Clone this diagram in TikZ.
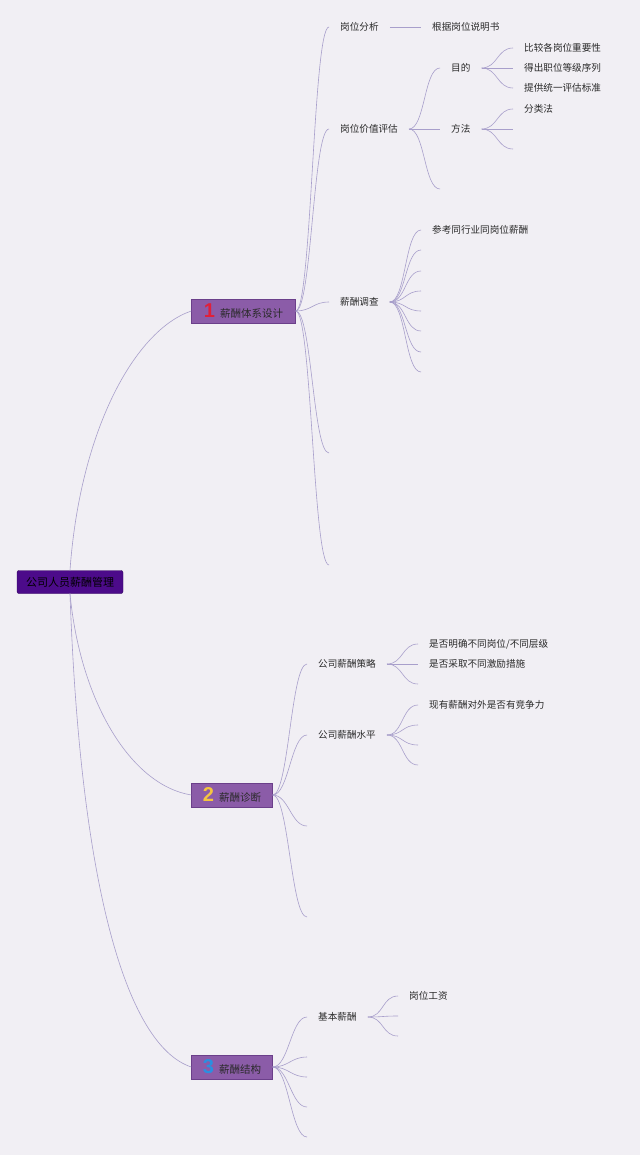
\documentclass[tikz,border=0pt]{standalone}
\usepackage{fontspec}
\setmainfont{Noto Sans CJK SC}
\newfontfamily\numfont{Liberation Sans}
\usepackage{xcolor}
\usepackage{tikz}
\definecolor{MapBack}{HTML}{F1EFF4}
\definecolor{MapRoot}{HTML}{4C0B8A}
\definecolor{MapRootLine}{HTML}{33065E}
\definecolor{MapBranch}{HTML}{8B5CA8}
\definecolor{MapBranchLine}{HTML}{6B3F8A}
\definecolor{MapLink}{HTML}{A89FCB}
\definecolor{MapText}{HTML}{2A2A2A}
\definecolor{NumRed}{HTML}{E0203A}
\definecolor{NumYellow}{HTML}{F5C540}
\definecolor{NumBlue}{HTML}{2B8FE0}

\begin{document}
\begin{tikzpicture}[
    x=1pt, y=-1pt,
    root/.style={draw=MapRootLine, fill=MapRoot, rounded corners=2pt, minimum width=106pt, minimum height=23pt, inner sep=0pt, font=\fontsize{11}{13}\selectfont, text=black},
    branch/.style={draw=MapBranchLine, fill=MapBranch, minimum height=24pt, inner sep=0pt, font=\fontsize{10.5}{12}\selectfont, text=MapText},
    leaf/.style={anchor=west, inner xsep=11pt, inner ysep=2pt, font=\fontsize{9.6}{11}\selectfont, text=MapText},
    link/.style={draw=MapLink, line width=0.6pt},
    fan/.style={link, to path={.. controls +(16,0) and +(-16,0) .. (\tikztotarget)}}
]
    \path[fill=MapBack, use as bounding box] (0,0) rectangle (640,1155);

    \node[root] (root) at (70,582) {公司人员薪酬管理};
    \node[branch, minimum width=104pt] (design) at (243.5,311) {{\numfont\bfseries\fontsize{20}{20}\selectfont\color{NumRed}1}\hspace{5pt}薪酬体系设计};
    \node[branch, minimum width=81pt] (diagnose) at (232,795) {{\numfont\bfseries\fontsize{20}{20}\selectfont\color{NumYellow}2}\hspace{5pt}薪酬诊断};
    \node[branch, minimum width=81pt] (structure) at (232,1067) {{\numfont\bfseries\fontsize{20}{20}\selectfont\color{NumBlue}3}\hspace{5pt}薪酬结构};

    \node[leaf] (analysis) at (329,27) {岗位分析};
    \node[leaf] (evaluate) at (329,129) {岗位价值评估};
    \node[leaf] (survey) at (329,302) {薪酬调查};
    \coordinate (design4) at (329,453);
    \coordinate (design5) at (329,565);

    \node[leaf] (manual) at (421,27) {根据岗位说明书};
    \node[leaf] (purpose) at (440,68) {目的};
    \node[leaf] (method) at (440,129) {方法};
    \coordinate (evaluate3) at (440,189);
    \node[leaf] (compare) at (513,48) {比较各岗位重要性};
    \node[leaf] (rank) at (513,68) {得出职位等级序列};
    \node[leaf] (standard) at (513,88) {提供统一评估标准};
    \node[leaf] (classify) at (513,109) {分类法};
    \coordinate (method2) at (513,129);
    \coordinate (method3) at (513,149);
    \node[leaf] (peer) at (421,230) {参考同行业同岗位薪酬};
    \coordinate (survey2) at (421,250);
    \coordinate (survey3) at (421,271);
    \coordinate (survey4) at (421,291);
    \coordinate (survey5) at (421,311);
    \coordinate (survey6) at (421,331);
    \coordinate (survey7) at (421,352);
    \coordinate (survey8) at (421,372);

    \node[leaf] (policy) at (307,664) {公司薪酬策略};
    \node[leaf] (level) at (307,735) {公司薪酬水平};
    \coordinate (diagnose3) at (307,826);
    \coordinate (diagnose4) at (307,917);
    \node[leaf] (clear) at (418,644) {是否明确不同岗位/不同层级};
    \node[leaf] (incentive) at (418,664) {是否采取不同激励措施};
    \coordinate (policy3) at (418,684);
    \node[leaf] (compete) at (418,705) {现有薪酬对外是否有竞争力};
    \coordinate (level2) at (418,725);
    \coordinate (level3) at (418,745);
    \coordinate (level4) at (418,765);

    \node[leaf] (basic) at (307,1017) {基本薪酬};
    \coordinate (structure2) at (307,1057);
    \coordinate (structure3) at (307,1077);
    \coordinate (structure4) at (307,1107);
    \coordinate (structure5) at (307,1137);
    \node[leaf] (postpay) at (398,996) {岗位工资};
    \coordinate (basic2) at (398,1016);
    \coordinate (basic3) at (398,1036);

    \draw[link] (root.north) .. controls (80,430) and (135,330) .. (design.west);
    \draw[link] (root.south) .. controls (80,700) and (130,785) .. (diagnose.west);
    \draw[link] (root.south) .. controls (80,880) and (125,1045) .. (structure.west);

    \draw[fan] (design.east) to (analysis.west);
    \draw[fan] (design.east) to (evaluate.west);
    \draw[fan] (design.east) to (survey.west);
    \draw[fan] (design.east) to (design4);
    \draw[fan] (design.east) to (design5);
    \draw[link] (analysis) -- (manual);
    \draw[fan] (evaluate.east) to (purpose.west);
    \draw[fan] (evaluate.east) to (method.west);
    \draw[fan] (evaluate.east) to (evaluate3);
    \draw[fan] (purpose.east) to (compare.west);
    \draw[fan] (purpose.east) to (rank.west);
    \draw[fan] (purpose.east) to (standard.west);
    \draw[fan] (method.east) to (classify.west);
    \draw[fan] (method.east) to (method2);
    \draw[fan] (method.east) to (method3);
    \draw[fan] (survey.east) to (peer.west);
    \draw[fan] (survey.east) to (survey2);
    \draw[fan] (survey.east) to (survey3);
    \draw[fan] (survey.east) to (survey4);
    \draw[fan] (survey.east) to (survey5);
    \draw[fan] (survey.east) to (survey6);
    \draw[fan] (survey.east) to (survey7);
    \draw[fan] (survey.east) to (survey8);

    \draw[fan] (diagnose.east) to (policy.west);
    \draw[fan] (diagnose.east) to (level.west);
    \draw[fan] (diagnose.east) to (diagnose3);
    \draw[fan] (diagnose.east) to (diagnose4);
    \draw[fan] (policy.east) to (clear.west);
    \draw[fan] (policy.east) to (incentive.west);
    \draw[fan] (policy.east) to (policy3);
    \draw[fan] (level.east) to (compete.west);
    \draw[fan] (level.east) to (level2);
    \draw[fan] (level.east) to (level3);
    \draw[fan] (level.east) to (level4);

    \draw[fan] (structure.east) to (basic.west);
    \draw[fan] (structure.east) to (structure2);
    \draw[fan] (structure.east) to (structure3);
    \draw[fan] (structure.east) to (structure4);
    \draw[fan] (structure.east) to (structure5);
    \draw[fan] (basic.east) to (postpay.west);
    \draw[fan] (basic.east) to (basic2);
    \draw[fan] (basic.east) to (basic3);
\end{tikzpicture}
\end{document}
